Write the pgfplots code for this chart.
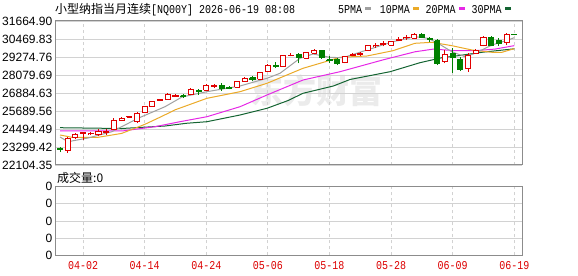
\documentclass[border=0pt]{standalone}
\usepackage{pgfplots}
\pgfplotsset{compat=1.18}
\usepackage{pgfplotstable}
\usepackage{graphicx}
\usepackage{fontspec}
\setmainfont{Liberation Sans}
\newfontfamily\cjk{Noto Sans CJK SC}
\newfontfamily\mono{Liberation Mono}
\newcommand\monotxt[1]{\scalebox{0.8333}[1]{\mono #1}}
\definecolor{upred}{RGB}{225,0,0}
\definecolor{downgreen}{RGB}{0,128,0}
\definecolor{ma5}{RGB}{160,160,160}
\definecolor{ma10}{RGB}{235,170,40}
\definecolor{ma20}{RGB}{230,40,230}
\definecolor{ma30}{RGB}{20,100,50}
\definecolor{gridc}{RGB}{210,210,210}
\definecolor{framec}{RGB}{140,140,140}
\definecolor{ticklab}{RGB}{220,0,0}

% candles: index, open, high, low, close, up(1)/down(0)
\pgfplotstableread{
i o h l c k
0 23186 23299 22967 23147 0
1 23100 23983 22921 23877 1
2 23917 24249 23830 24142 1
3 24209 24315 23764 24249 1
4 24182 24262 24129 24195 1
5 24096 24494 24029 24361 1
6 24295 24474 24096 24328 1
7 24474 25224 24462 25045 1
8 25045 25324 25025 25224 1
9 25271 25357 25258 25337 1
10 24979 25643 24873 25537 1
11 25576 26054 25556 25975 1
12 25975 26386 25955 26333 1
13 26400 26486 26353 26440 1
14 26466 26884 26433 26818 1
15 26639 26785 26619 26732 1
16 26718 26851 26552 26685 0
17 26771 27216 26752 27130 1
18 27083 27183 26752 26971 0
19 27064 27482 27050 27415 1
20 27349 27482 27249 27382 1
21 27415 27528 27037 27170 0
22 27263 27382 27117 27216 0
23 27263 27681 27249 27615 1
24 27635 27947 27615 27880 1
25 27900 27980 27681 27767 0
26 27794 28279 27747 28232 1
27 28325 28810 28312 28743 1
28 28710 28942 28544 28677 0
29 28630 29407 28611 29341 1
30 29374 29540 29308 29407 1
31 29454 29540 28856 29255 0
32 29188 29606 29142 29560 1
33 29520 29806 29474 29739 1
34 29739 29772 29142 29255 0
35 29108 29341 28856 29075 0
36 29122 29175 28743 28856 0
37 28896 29374 28843 29294 1
38 29341 29540 29308 29454 1
39 29440 29606 29341 29474 1
40 29739 30071 29706 30005 1
41 30005 30204 29872 30038 1
42 30104 30304 29972 30138 1
43 30071 30337 30038 30290 1
44 30403 30602 30304 30436 1
45 30536 30702 30436 30569 1
46 30516 30868 30502 30801 1
47 30782 30901 30536 30582 0
48 30470 30602 30270 30436 0
49 30370 30470 28743 28856 0
50 28962 29739 28856 29440 1
51 29520 29839 28232 29255 0
52 29122 29274 28345 28458 0
53 28478 29520 28298 29341 1
54 29520 29806 29474 29693 1
55 30005 30636 29972 30569 1
56 30582 30636 29972 30005 0
57 30337 30569 30005 30138 0
58 30237 30835 30071 30768 1
59 30788 30801 30735 30748 0
}\candles

\pgfplotstableread{
x y
0 23963
1.04 23651
3.64 23897
6.75 24315
10.13 25205
13.64 25975
15.84 26619
19.09 26971
23.38 27349
26.88 27860
28.57 28192
31.17 29188
32.86 29474
35.06 29250
36.75 29230
39.87 29740
43.25 30290
46.1 30622
47.8 30516
49.1 30184
50.9 29620
52.6 29294
53.9 29520
56.1 30071
58.2 30403
59 30560
}\maA

\pgfplotstableread{
x y
0 24096
1.56 23943
4.94 23943
8 24200
9.5 24500
11 24800
13 25278
15 25777
19.09 26533
23.38 26971
26.88 27528
31.56 28524
33.77 28856
36.36 29255
39.87 29341
43.25 29693
46.1 30184
48.3 30250
50.9 30025
53.5 29740
56.1 29587
57.4 29587
59 29830
}\maB

\pgfplotstableread{
x y
0 24362
8.05 24362
12.34 24647
15.58 24979
19.09 25311
23.38 25975
26.88 26752
31.56 27747
36.36 28298
42 29090
46.1 29620
48.5 29800
51 29706
54 29700
56.5 29800
59 30028
}\maC

\pgfplotstableread{
x y
0 24580
8 24527
13.64 24693
16.4 24873
19.09 24979
23.38 25424
26.88 25869
29.6 26380
31.56 26865
35.5 27349
37.66 27781
42.86 28298
46.75 28896
49.6 29228
51.7 29361
54.8 29587
59 29819
}\maD

\pgfplotstablegetrowsof{\candles}
\pgfmathtruncatemacro\lastrow{\pgfplotsretval-1}

\pgfplotsset{
  kchart/.style={
    scale only axis, anchor=south west, width=467.3bp,
    xmin=-0.65, xmax=60.04,
    xtick={3,11,19,27,35,43,51,59},
    major tick length=0pt,
    scaled x ticks=false, scaled y ticks=false,
    xmajorgrids, ymajorgrids,
    x grid style={gridc, dash pattern=on 3bp off 3bp, line width=0.8bp},
    y grid style={gridc, line width=0.8bp},
    axis line style={framec, line width=1bp},
    tick label style={font=\fontsize{12bp}{14bp}\selectfont},
    yticklabel style={anchor=east, inner sep=0pt, xshift=-2.5bp},
  }
}

\begin{document}
\begin{tikzpicture}
\useasboundingbox (0,0) rectangle (578bp,276bp);
% watermark
\node[anchor=west, inner sep=0pt, text=black!8, font=\cjk\bfseries\fontsize{33bp}{35bp}\selectfont] at (250bp,185bp) {东方财富};

\begin{axis}[kchart, at={(55bp,111bp)}, height=144bp,
  ymin=22104.3, ymax=31665.0,
  xticklabel=\empty,
  ytick={22104.35,23299.42,24494.49,25689.56,26884.63,28079.69,29274.76,30469.83,31664.90},
  yticklabels={22104.35,23299.42,24494.49,25689.56,26884.63,28079.69,29274.76,30469.83,31664.90},
]
\addplot[ma30, line width=1bp] table[x=x,y=y] {\maD};
\addplot[ma20, line width=1bp] table[x=x,y=y] {\maC};
\addplot[ma10, line width=1bp] table[x=x,y=y] {\maB};
\addplot[ma5, line width=1bp] table[x=x,y=y] {\maA};
\pgfplotsforeachungrouped \rr in {0,...,\lastrow}{%
  \pgfplotstablegetelem{\rr}{i}\of\candles \edef\cI{\pgfplotsretval}%
  \pgfplotstablegetelem{\rr}{o}\of\candles \edef\cO{\pgfplotsretval}%
  \pgfplotstablegetelem{\rr}{h}\of\candles \edef\cH{\pgfplotsretval}%
  \pgfplotstablegetelem{\rr}{l}\of\candles \edef\cL{\pgfplotsretval}%
  \pgfplotstablegetelem{\rr}{c}\of\candles \edef\cC{\pgfplotsretval}%
  \pgfplotstablegetelem{\rr}{k}\of\candles \edef\cK{\pgfplotsretval}%
  \pgfmathsetmacro\xa{\cI-0.33}\pgfmathsetmacro\xb{\cI+0.33}%
  \ifnum\cK=1 \def\ccol{upred}\def\cfill{white}\else\def\ccol{downgreen}\def\cfill{downgreen}\fi
  \edef\temp{\noexpand\addplot[draw=\ccol,line width=1bp] coordinates {(\cI,\cL) (\cI,\cH)};
    \noexpand\addplot[draw=\ccol,fill=\cfill,line width=1bp] coordinates {(\xa,\cO) (\xb,\cO) (\xb,\cC) (\xa,\cC) (\xa,\cO)};}%
  \temp
}
\end{axis}

\begin{axis}[kchart, at={(55bp,20.7bp)}, height=68.6bp,
  ymin=0, ymax=4,
  ytick={0,1,2,3,4}, yticklabels={0,0,0,0,0},
  xticklabels={\monotxt{04-02},\monotxt{04-14},\monotxt{04-24},\monotxt{05-06},\monotxt{05-18},\monotxt{05-28},\monotxt{06-09},\monotxt{06-19}},
  xticklabel style={anchor=center, inner sep=0pt, yshift=-10.7bp, text=ticklab},
]
\addplot[draw=none] coordinates {(0,0) (59,0)};
\end{axis}

% title
\node[anchor=west, inner sep=0pt, font=\fontsize{12bp}{14bp}\selectfont] at (55bp,266bp) {{\cjk 小型纳指当月连续}\monotxt{[NQ00Y] 2026-06-19 08:08}};
% legend
\begin{scope}[every node/.style={anchor=west, inner sep=0pt, font=\fontsize{12bp}{14bp}\selectfont}]
\node at (338bp,266.7bp) {\monotxt{5PMA}};
\fill[ma5] (365bp,265.8bp) rectangle (370.5bp,268.6bp);
\node at (379.7bp,266.7bp) {\monotxt{10PMA}};
\fill[ma10] (413bp,265.8bp) rectangle (418.5bp,268.6bp);
\node at (425.3bp,266.7bp) {\monotxt{20PMA}};
\fill[ma20] (459bp,265.8bp) rectangle (464.5bp,268.6bp);
\node at (471.3bp,266.7bp) {\monotxt{30PMA}};
\fill[ma30] (505.3bp,265.8bp) rectangle (510.8bp,268.6bp);
\end{scope}
% volume label
\node[anchor=west, inner sep=0pt, font=\cjk\fontsize{12bp}{14bp}\selectfont] at (57bp,98.3bp) {成交量:0};
\end{tikzpicture}
\end{document}
